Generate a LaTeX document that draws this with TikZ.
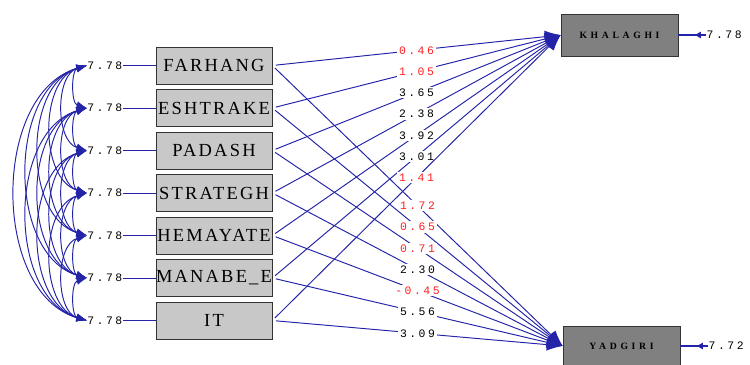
\documentclass[tikz,border=0pt]{standalone}
\usepackage{fontspec}
\newfontfamily\valfont[LetterSpace=22]{Liberation Mono}
\newfontfamily\obsfont[LetterSpace=12]{Liberation Serif}
\newfontfamily\latfont[LetterSpace=38]{Liberation Serif}
\definecolor{PathBlue}{RGB}{36,36,168}
\definecolor{ObsGray}{RGB}{200,200,200}
\definecolor{LatGray}{RGB}{128,128,128}
\definecolor{ValRed}{RGB}{255,32,32}
\usetikzlibrary{arrows.meta,positioning,decorations.markings}

\begin{document}
\begin{tikzpicture}[
  node distance=0.96mm,
  obs/.style={draw=black!80,fill=ObsGray,minimum width=2.32cm,minimum height=0.74cm,inner sep=0pt,font=\obsfont\fontsize{10.5}{12}\selectfont},
  lat/.style={draw=black!80,fill=LatGray,minimum width=2.34cm,minimum height=0.84cm,inner sep=0pt,font=\latfont\bfseries\fontsize{5.5}{6}\selectfont},
  val/.style={inner sep=0pt,font=\valfont\fontsize{6.5}{7}\selectfont},
  coef/.style={val,fill=white,inner sep=1pt,pos=0.5},
  arr/.style={-{Latex[length=9pt,width=7pt]},color=PathBlue,line width=0.55pt,shorten <=2pt},
  cov/.style={{Latex[length=6pt,width=4.5pt]}-{Latex[length=6pt,width=4.5pt]},color=PathBlue,line width=0.55pt,bend right=74},
  err/.style={color=PathBlue,thick,postaction={decorate},
    decoration={markings,mark=at position 0.45 with {\arrow{Latex[length=4pt,width=4pt]}}}}
]
\useasboundingbox (0,0) rectangle (15,-7.3);
% observed variables
\node[obs] (far) at (4.28,-1.31) {FARHANG};
\node[obs,below=of far] (esh) {ESHTRAKE};
\node[obs,below=of esh] (pad) {PADASH};
\node[obs,below=of pad] (str) {STRATEGH};
\node[obs,below=of str] (hem) {HEMAYATE};
\node[obs,below=of hem] (man) {MANABE\_E};
\node[obs,below=of man] (it) {IT};
% latent variables
\node[lat] (khal) at (12.39,-0.70) {KHALAGHI};
\node[lat,minimum height=0.8cm] (yad) at (12.43,-6.92) {YADGIRI};
\node[val,right=5.6mm of khal] (ek) {7.78};
\node[val,right=5.6mm of yad] (ey) {7.72};
\draw[err] (ek) -- (khal);
\draw[err] (ey) -- (yad);
% variances
\foreach \b/\n in {far/1,esh/2,pad/3,str/4,hem/5,man/6,it/7}{
  \node[val,left=6.6mm of \b] (v\n) {7.78};
  \draw[color=PathBlue,line width=0.55pt] (v\n) -- (\b);
}
% covariances
\foreach \i in {1,...,6}{
  \pgfmathtruncatemacro\nxt{\i+1}
  \foreach \j in {\nxt,...,7}
    \draw[cov] (v\i.west) to (v\j.west);
}
% paths
\foreach \b/\k/\kc in {far/0.46/ValRed,esh/1.05/ValRed,pad/3.65/black,str/2.38/black,hem/3.92/black,man/3.01/black,it/1.41/ValRed}
  \draw[arr] (\b.east) -- (khal.west) node[coef,text=\kc] {\k};
\foreach \b/\y/\yc in {far/1.72/ValRed,esh/0.65/ValRed,pad/0.71/ValRed,str/2.30/black,hem/-0.45/ValRed,man/5.56/black,it/3.09/black}
  \draw[arr] (\b.east) -- (yad.west) node[coef,text=\yc] {\y};
\end{tikzpicture}
\end{document}
